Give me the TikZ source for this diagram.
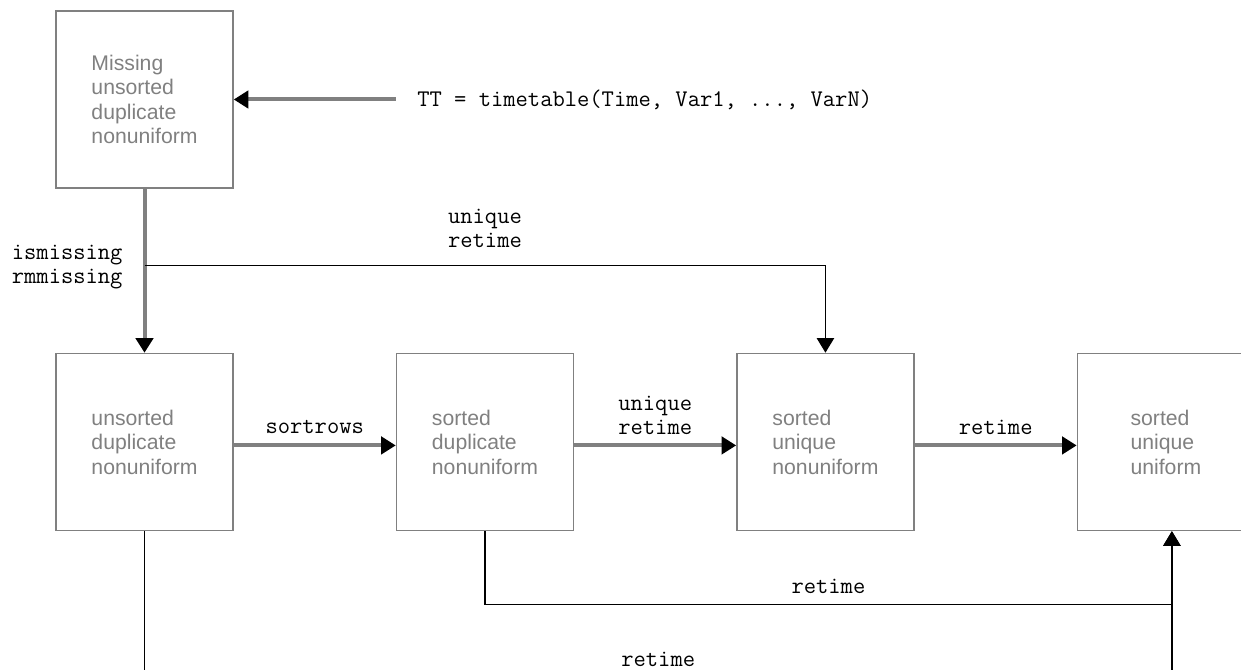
\documentclass[tikz,border=0pt]{standalone}
\usepackage{fontspec}
\setmainfont{Liberation Sans}
\usepackage{xcolor}
\usepackage{tikz}
\usetikzlibrary{arrows.meta, positioning, calc}

\definecolor{boxgray}{HTML}{808080}

\begin{document}
\begin{tikzpicture}[
  x=0.75pt, y=-0.75pt,
  state/.style={rectangle, draw=boxgray, line width=1.1pt, minimum width=132.75pt, minimum height=132.75pt, inner sep=0pt, align=left, text=boxgray, font=\fontsize{15.9pt}{18.4pt}\selectfont},
  cmd/.style={inner xsep=16pt, inner ysep=0pt, font=\fontsize{17.9pt}{18pt}\selectfont\ttfamily},
  lbl/.style={inner sep=0pt, align=center, font=\fontsize{17.9pt}{18pt}\selectfont\ttfamily},
  flow/.style={draw=boxgray, line width=3pt, -{Triangle[length=11pt, width=13pt, black]}},
  link/.style={draw, line width=1pt, -{Triangle[length=11pt, width=13pt]}},
  node distance=123pt and 121.5pt
]
  \useasboundingbox (0,0) rectangle (1241,670);
  \clip (0,0) rectangle (1241,670);

  \node[state] (missing) at (144.5,99.5) {Missing\\unsorted\\duplicate\\nonuniform};
  \node[cmd, right=of missing] (tt) {TT = timetable(Time, Var1, ..., VarN)};
  \node[state, below=of missing] (unsorted) {unsorted\\duplicate\\nonuniform};
  \node[state, right=of unsorted] (sortdup) {sorted\\duplicate\\nonuniform};
  \node[state, right=of sortdup] (sortuni) {sorted\\unique\\nonuniform};
  \node[state, right=of sortuni] (uniform) {sorted\\unique\\uniform};

  \draw[flow] (tt) -- (missing);
  \draw[flow] (missing) -- node[lbl, pos=0.48, left=15pt] {ismissing\\rmmissing} (unsorted);

  \coordinate (fork) at ($(missing.south)!0.47!(unsorted.north)$);
  \draw[link] (fork) -| node[lbl, pos=0.25, yshift=28pt] {unique\\retime} (sortuni.north);

  \draw[flow] ([yshift=-2.6pt]unsorted.east) -- node[lbl, yshift=13.5pt] {sortrows} ([yshift=-2.6pt]sortdup.west);
  \draw[flow] ([yshift=-2.6pt]sortdup.east) -- node[lbl, yshift=22.5pt] {unique\\retime} ([yshift=-2.6pt]sortuni.west);
  \draw[flow] ([yshift=-2.6pt]sortuni.east) -- node[lbl, yshift=13.5pt] {retime} ([yshift=-2.6pt]uniform.west);

  \draw[link] (sortdup.south) -- ++(0,73) -| node[lbl, pos=0.25, yshift=13.5pt] {retime} ([xshift=4.5pt]uniform.south);
  \draw[link] (unsorted.south) -- ++(0,146) -| node[lbl, pos=0.25, yshift=13.5pt] {retime} ([xshift=4.5pt]uniform.south);
\end{tikzpicture}
\end{document}
